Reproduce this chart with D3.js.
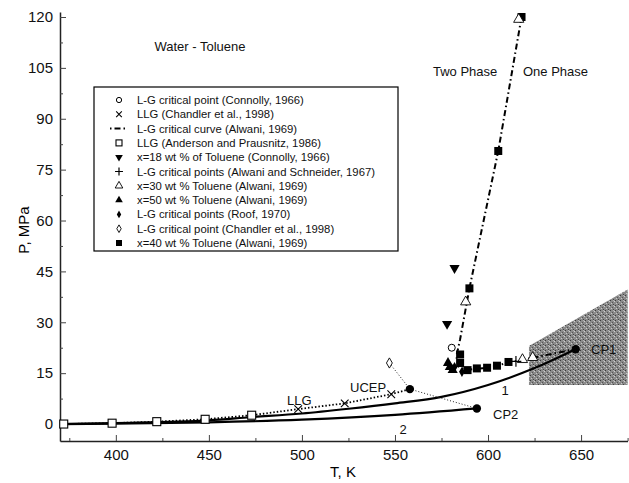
<!DOCTYPE html>
<html>
<head>
<meta charset="utf-8">
<script src="https://cdn.jsdelivr.net/npm/d3@7"></script>
<style>
  body { margin: 0; background: #fff; }
  svg { font-family: "Liberation Sans", Arial, sans-serif; }
</style>
</head>
<body>
<div id="chart"></div>
<script>
// data: [T (K), P (MPa)]
const curve1 = [[370, 0], [400, 0.3], [450, 1.1], [472, 2.0], [500, 3.1], [525, 4.5], [550, 6.1], [575, 8.0], [600, 11.5], [625, 16.5], [647, 22.06]];
const curve2 = [[370, 0], [400, 0.15], [450, 0.5], [500, 1.3], [550, 2.7], [594, 4.6]];
const criticalCurve = [[618, 120], [605.5, 80.5], [590, 40], [585, 25], [583, 20], [584, 17], [588, 16], [594, 16.3], [600, 16.6], [605, 17.2], [611, 18.2], [616, 18.7], [622, 19.3], [630, 20.2], [638, 21.1], [647, 22.06]];
const llgAnderson = [[372, 0], [398, 0.25], [422, 0.7], [448, 1.4], [473, 2.6]];
const llgChandler = [[498, 4.4], [523, 6.1], [548, 8.8]];
const llgLine = [[372, 0], [398, 0.25], [422, 0.7], [448, 1.4], [473, 2.6], [498, 4.4], [523, 6.1], [548, 8.8], [558, 10.3]];
const chandlerLine = [[547, 18], [558, 10.3], [594, 4.6]];
const connollyCP = [[580.5, 22.5]];
const x18 = [[582, 46], [578, 29.5]];
const alwaniSchneider = [[615, 18.5]];
const x30 = [[616.5, 119.3], [588, 36], [618.5, 19], [624, 19.6]];
const x50 = [[578.5, 18], [581, 15.9], [579.5, 16.8]];
const roof = [[582, 16.8], [586, 15.4]];
const chandlerCP = [[547, 18]];
const x40 = [[618, 120], [605.5, 80.5], [590, 40], [585, 20.5], [585, 18], [589, 15.9], [594, 16.4], [599.5, 16.6], [604.8, 17.2], [611, 18.3]];
const specialPoints = [[647.1, 22.06], [594, 4.6], [558, 10.3]];
const shadedRegion = [[622, 11.5], [622, 23], [675, 39.7], [675, 11.5]];

const xTicks = [400, 450, 500, 550, 600, 650];
const xMinor = [375, 425, 475, 525, 575, 625, 675];
const yTicks = [0, 15, 30, 45, 60, 75, 90, 105, 120];
const yMinor = [7.5, 22.5, 37.5, 52.5, 67.5, 82.5, 97.5, 112.5];

const legendLabels = [
  'L-G critical point (Connolly, 1966)',
  'LLG (Chandler et al., 1998)',
  'L-G critical curve (Alwani, 1969)',
  'LLG  (Anderson and Prausnitz, 1986)',
  'x=18 wt % of Toluene (Connolly, 1966)',
  'L-G critical points (Alwani and Schneider, 1967)',
  'x=30 wt % Toluene (Alwani, 1969)',
  'x=50 wt % Toluene (Alwani, 1969)',
  'L-G critical points  (Roof, 1970)',
  'L-G critical point  (Chandler et al., 1998)',
  'x=40 wt % Toluene (Alwani, 1969)'
];
const legendSymbols = ['openCircle', 'cross', 'dashdot', 'openSquare', 'downTri', 'plus', 'openTri', 'fillTri', 'fillDiamond', 'openDiamond', 'fillSquare'];

const width = 629, height = 483;
const svg = d3.select('#chart').append('svg')
  .attr('width', width)
  .attr('height', height);

svg.append('rect').attr('width', width).attr('height', height).attr('fill', '#fff');

const x = d3.scaleLinear().domain([370, 675]).range([60, 627.6]);
const y = d3.scaleLinear().domain([-5, 121.5]).range([441, 441 - 126.5 * 3.392]);

// gray speckled texture for the shaded region
const defs = svg.append('defs');
const pat = defs.append('pattern')
  .attr('id', 'speckle')
  .attr('width', 5).attr('height', 5)
  .attr('patternUnits', 'userSpaceOnUse');
pat.append('rect').attr('width', 5).attr('height', 5).attr('fill', '#8a8a8a');
[[0, 0, '#3c3c3c'], [2, 2, '#555'], [4, 1, '#d0d0d0'], [1, 3, '#c8c8c8'], [3, 4, '#444'], [3, 0, '#b5b5b5']].forEach(p => {
  pat.append('rect').attr('x', p[0]).attr('y', p[1]).attr('width', 1).attr('height', 1).attr('fill', p[2]);
});

const line = d3.line().x(d => x(d[0])).y(d => y(d[1]));
const smooth = d3.line().x(d => x(d[0])).y(d => y(d[1])).curve(d3.curveMonotoneX);

svg.append('path')
  .datum(shadedRegion)
  .attr('d', d => line(d) + 'Z')
  .attr('fill', 'url(#speckle)');

// axes
const yAxis = d3.axisLeft(y).tickValues(yTicks).tickSizeInner(-6).tickSizeOuter(0).tickPadding(7);
const yAxisMinor = d3.axisLeft(y).tickValues(yMinor).tickSizeInner(-3).tickSizeOuter(0).tickFormat('');
const xAxis = d3.axisBottom(x).tickValues(xTicks).tickSizeInner(-6).tickSizeOuter(0).tickPadding(8);
const xAxisMinor = d3.axisBottom(x).tickValues(xMinor).tickSizeInner(-3).tickSizeOuter(0).tickFormat('');

const gy = svg.append('g').attr('transform', 'translate(60,0)');
gy.call(yAxis);
gy.append('g').call(yAxisMinor).select('.domain').remove();
const gx = svg.append('g').attr('transform', 'translate(0,441)');
gx.call(xAxis);
gx.append('g').call(xAxisMinor).select('.domain').remove();
svg.selectAll('.domain').attr('stroke', '#222').attr('stroke-width', 1.5);
svg.selectAll('.tick line').attr('stroke', '#444').attr('stroke-width', 1);
svg.selectAll('.tick text').attr('font-size', 15).attr('fill', '#111').attr('font-family', '"Liberation Sans", Arial, sans-serif');

svg.append('text')
  .attr('transform', 'translate(29,230) rotate(-90)')
  .attr('text-anchor', 'middle')
  .attr('font-size', 15)
  .text('P, MPa');
svg.append('text')
  .attr('x', 343).attr('y', 477)
  .attr('text-anchor', 'middle')
  .attr('font-size', 15)
  .text('T, K');

// curves
svg.append('path').datum(curve2).attr('d', smooth)
  .attr('fill', 'none').attr('stroke', '#000').attr('stroke-width', 2.2);
svg.append('path').datum(curve1).attr('d', smooth)
  .attr('fill', 'none').attr('stroke', '#000').attr('stroke-width', 2.2);
svg.append('path').datum(llgLine).attr('d', line)
  .attr('fill', 'none').attr('stroke', '#000').attr('stroke-width', 1.8).attr('stroke-dasharray', '1.5,2');
svg.append('path').datum(chandlerLine).attr('d', line)
  .attr('fill', 'none').attr('stroke', '#222').attr('stroke-width', 1).attr('stroke-dasharray', '1,2');
svg.append('path').datum(criticalCurve).attr('d', line)
  .attr('fill', 'none').attr('stroke', '#000').attr('stroke-width', 2).attr('stroke-dasharray', '6,3,1.5,3');

// marker drawing
function drawSymbol(g, type, s) {
  s = s || 1;
  if (type === 'openCircle') {
    g.append('circle').attr('r', 3.5 * s).attr('fill', '#fff').attr('stroke', '#000').attr('stroke-width', 1);
  } else if (type === 'cross') {
    g.append('path').attr('d', d3.symbol(d3.symbolTimes, 40 * s * s)).attr('fill', 'none').attr('stroke', '#000').attr('stroke-width', 1.1);
  } else if (type === 'plus') {
    g.append('path').attr('d', d3.symbol(d3.symbolPlus, 40 * s * s)).attr('fill', 'none').attr('stroke', '#000').attr('stroke-width', 1.2);
  } else if (type === 'openSquare') {
    g.append('rect').attr('x', -4 * s).attr('y', -4 * s).attr('width', 8 * s).attr('height', 8 * s)
      .attr('fill', '#fff').attr('stroke', '#000').attr('stroke-width', 1.1);
  } else if (type === 'fillSquare') {
    g.append('rect').attr('x', -4 * s).attr('y', -4 * s).attr('width', 8 * s).attr('height', 8 * s).attr('fill', '#000');
  } else if (type === 'downTri') {
    g.append('path').attr('d', d3.symbol(d3.symbolTriangle, 45 * s * s)).attr('transform', 'rotate(180)').attr('fill', '#000');
  } else if (type === 'openTri') {
    g.append('path').attr('d', d3.symbol(d3.symbolTriangle, 45 * s * s)).attr('fill', '#fff').attr('stroke', '#000').attr('stroke-width', 0.9);
  } else if (type === 'fillTri') {
    g.append('path').attr('d', d3.symbol(d3.symbolTriangle, 45 * s * s)).attr('fill', '#000');
  } else if (type === 'fillDiamond') {
    g.append('path').attr('d', d3.symbol(d3.symbolDiamond, 30 * s * s)).attr('fill', '#000');
  } else if (type === 'openDiamond') {
    g.append('path').attr('d', d3.symbol(d3.symbolDiamond, 30 * s * s)).attr('fill', '#fff').attr('stroke', '#000').attr('stroke-width', 0.9);
  } else if (type === 'dashdot') {
    g.append('line').attr('x1', -9).attr('x2', 7).attr('stroke', '#000').attr('stroke-width', 2).attr('stroke-dasharray', '1.5,3,6,3');
  } else if (type === 'fillCircle') {
    g.append('circle').attr('r', 4.2 * s).attr('fill', '#000');
  }
}

function plotPoints(data, type, s) {
  data.forEach(d => {
    const g = svg.append('g').attr('transform', `translate(${x(d[0])},${y(d[1])})`);
    drawSymbol(g, type, s);
  });
}

plotPoints(llgAnderson, 'openSquare');
plotPoints(llgChandler, 'cross');
plotPoints(chandlerCP, 'openDiamond');
plotPoints(x50, 'fillTri');
plotPoints(roof, 'fillDiamond');
plotPoints(x40, 'fillSquare');
plotPoints(x30, 'openTri');
plotPoints(alwaniSchneider, 'plus');
plotPoints(x18, 'downTri');
plotPoints(connollyCP, 'openCircle');
plotPoints(specialPoints, 'fillCircle');

// annotations
const labels = [
  ['Water - Toluene', 200, 51, 13, 'middle'],
  ['Two Phase', 433, 76, 13, 'start'],
  ['One Phase', 523, 76, 13, 'start'],
  ['CP1', 591, 354, 13, 'start'],
  ['CP2', 493, 419, 13, 'start'],
  ['UCEP', 350, 392, 13, 'start'],
  ['LLG', 287, 405, 13, 'start'],
  ['1', 505, 395, 13, 'middle'],
  ['2', 403, 434, 13, 'middle']
];
labels.forEach(l => {
  svg.append('text').attr('x', l[1]).attr('y', l[2]).attr('font-size', l[3])
    .attr('text-anchor', l[4]).attr('fill', '#111').text(l[0]);
});

// legend
const legend = svg.append('g');
legend.append('rect')
  .attr('x', 94).attr('y', 87).attr('width', 304).attr('height', 164)
  .attr('fill', '#fff').attr('stroke', '#000').attr('stroke-width', 1.2);
legendLabels.forEach((label, i) => {
  const yy = 100 + i * 14.3;
  const g = legend.append('g').attr('transform', `translate(119,${yy})`);
  drawSymbol(g, legendSymbols[i], 0.75);
  legend.append('text').attr('x', 137).attr('y', yy + 4)
    .attr('font-size', 11.3).attr('fill', '#111').text(label);
});
</script>
</body>
</html>
